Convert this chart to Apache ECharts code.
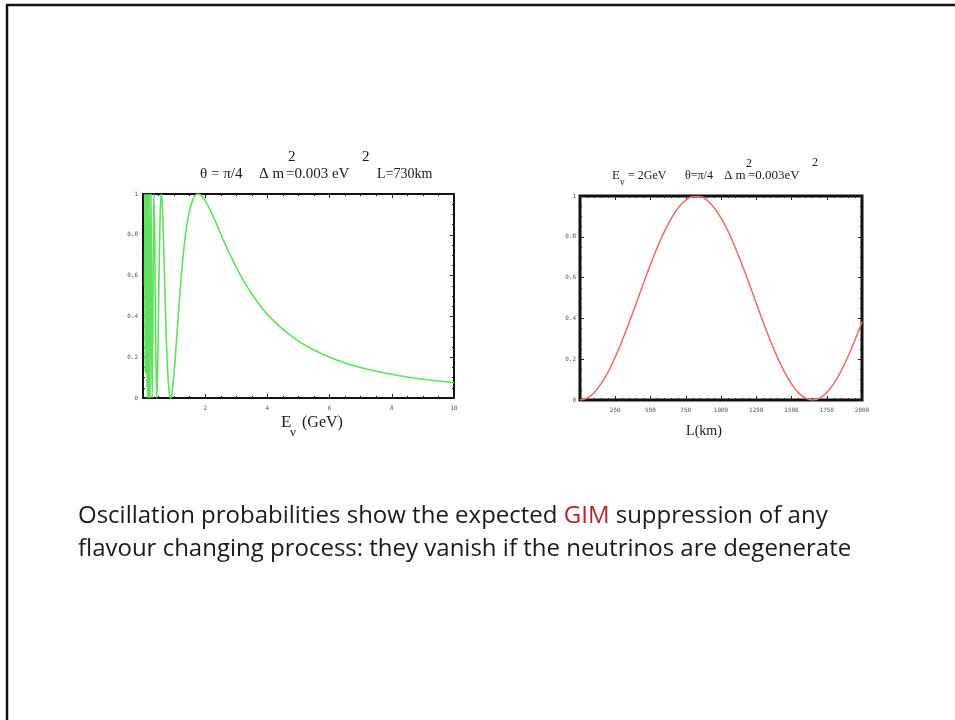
<!DOCTYPE html>
<html>
<head>
<meta charset="utf-8">
<script src="https://cdn.jsdelivr.net/npm/echarts/dist/echarts.min.js"></script>
</head>
<body style="margin:0">
<div id="container" style="width:955px;height:720px;"></div>
<script>
// left plot: probability vs neutrino energy (GeV)
var energy = [0.05, 0.06, 0.07, 0.08, 0.09, 0.10, 0.11, 0.12, 0.13, 0.14, 0.148, 0.161, 0.177, 0.197, 0.221, 0.237,
    0.253, 0.26, 0.27, 0.28, 0.295, 0.31, 0.32, 0.335, 0.354, 0.375, 0.39, 0.41, 0.443, 0.47, 0.50, 0.53, 0.56, 0.59,
    0.62, 0.65, 0.70, 0.75, 0.80, 0.85, 0.885, 0.92, 1.0, 1.1, 1.2, 1.3, 1.4, 1.5, 1.6, 1.65, 1.7, 1.77, 1.85, 1.9, 2.0, 2.2, 2.4,
    2.6, 2.8, 3.0, 3.25, 3.5, 3.75, 4.0, 4.5, 5.0, 5.5, 6.0, 6.5, 7.0, 7.5, 8.0, 8.5, 9.0, 9.5, 10];
var probE = [0.55, 1.0, 0.13, 1.0, 0.12, 0.98, 0.2, 1.0, 0.05, 1.0, 0.0, 1.0, 0.0, 1.0, 0.0, 0.55,
    1.0, 0.91, 0.59, 0.24, 0.0, 0.19, 0.45, 0.81, 1.0, 0.82, 0.56, 0.23, 0.0, 0.13, 0.44, 0.74, 0.94, 1.0,
    0.95, 0.82, 0.55, 0.29, 0.11, 0.02, 0.0, 0.014, 0.125, 0.33, 0.54, 0.71, 0.84, 0.92, 0.97, 0.987, 0.996, 1.0, 0.996, 0.988, 0.968, 0.909, 0.84,
    0.769, 0.703, 0.64, 0.57, 0.51, 0.457, 0.41, 0.336, 0.279, 0.235, 0.2, 0.172, 0.15, 0.131, 0.116, 0.103, 0.092, 0.083, 0.075];

// right plot: probability vs baseline (km)
var baseline = [0, 50, 100, 150, 200, 250, 300, 350, 400, 450, 500, 550, 600, 650, 700, 750, 800, 850, 900, 950, 1000,
    1050, 1100, 1150, 1200, 1250, 1300, 1350, 1400, 1450, 1500, 1550, 1600, 1650, 1700, 1750, 1800, 1850, 1900, 1950, 2000];
var probL = [0, 0.009, 0.036, 0.08, 0.138, 0.21, 0.293, 0.383, 0.476, 0.572, 0.664, 0.751, 0.828, 0.893, 0.945, 0.98, 0.998, 0.998, 0.98, 0.944, 0.893,
    0.827, 0.749, 0.662, 0.57, 0.474, 0.38, 0.291, 0.209, 0.138, 0.079, 0.035, 0.009, 0.0, 0.009, 0.037, 0.08, 0.14, 0.212, 0.294, 0.384];

var energyTicks = ['2', '4', '6', '8', '10'];
var baselineTicks = ['250', '500', '750', '1000', '1250', '1500', '1750', '2000'];
var probTicks = ['0', '0.2', '0.4', '0.6', '0.8', '1'];

function pickLabel(list) {
    return function (v) {
        var s = String(+(+v).toFixed(3));
        return list.indexOf(s) >= 0 ? s : '';
    };
}

var tickColor = '#222';
var labelStyle = {fontSize: 6, fontFamily: 'DejaVu Sans Mono', color: '#555'};

function frameAxis(grid, pos, min, max, interval, minor, ticks, margin) {
    return {
        gridIndex: grid, type: 'value', position: pos, min: min, max: max, interval: interval,
        axisLine: {show: false, onZero: false},
        splitLine: {show: false},
        axisTick: {show: true, inside: true, length: 4, lineStyle: {color: tickColor}},
        minorTick: {show: true, splitNumber: minor, length: 2, lineStyle: {color: tickColor}},
        axisLabel: ticks ? Object.assign({show: true, margin: margin, formatter: pickLabel(ticks)}, labelStyle) : {show: false}
    };
}

var serif = '"Liberation Serif", "DejaVu Serif", serif';
function txt(x, y, s, size, extra) {
    return {
        type: 'text', x: x, y: y,
        style: Object.assign({text: s, font: size + 'px ' + serif, fill: '#1a1a1a', align: 'left', verticalAlign: 'middle'}, extra || {})
    };
}

var dom = document.getElementById('container');
var myChart = echarts.init(dom);

var option = {
    animation: false,
    backgroundColor: '#fff',
    grid: [
        {left: 143, top: 194, width: 311, height: 204, show: true, borderColor: '#111', borderWidth: 2, backgroundColor: 'transparent'},
        {left: 580, top: 196, width: 282, height: 204, show: true, borderColor: '#111', borderWidth: 3, backgroundColor: 'transparent'}
    ],
    xAxis: [
        frameAxis(0, 'bottom', 0, 10, 2, 4, energyTicks, 7),
        frameAxis(0, 'top', 0, 10, 2, 4, null),
        frameAxis(1, 'bottom', 0, 2000, 250, 5, baselineTicks, 7),
        frameAxis(1, 'top', 0, 2000, 250, 5, null)
    ],
    yAxis: [
        frameAxis(0, 'left', 0, 1, 0.2, 4, probTicks, 5),
        frameAxis(0, 'right', 0, 1, 0.2, 4, null),
        frameAxis(1, 'left', 0, 1, 0.2, 4, probTicks, 4),
        frameAxis(1, 'right', 0, 1, 0.2, 4, null)
    ],
    series: [
        {
            type: 'line', xAxisIndex: 0, yAxisIndex: 0,
            data: energy.map(function (e, i) { return [e, probE[i]]; }),
            showSymbol: false, smooth: 0.3,
            lineStyle: {color: '#5fe05f', width: 1.6}
        },
        {
            type: 'line', xAxisIndex: 2, yAxisIndex: 2,
            data: baseline.map(function (l, i) { return [l, probL[i]]; }),
            showSymbol: false, smooth: 0.4,
            lineStyle: {color: '#f06a6a', width: 1.5}
        }
    ],
    graphic: [
        {type: 'line', shape: {x1: 6, y1: 5, x2: 955, y2: 5}, style: {stroke: '#111', lineWidth: 2.5}},
        {type: 'line', shape: {x1: 7, y1: 5, x2: 7, y2: 720}, style: {stroke: '#111', lineWidth: 2.5}},

        // left title
        txt(200, 174, 'θ = π/4', 15),
        txt(259, 174, 'Δ m', 15),
        txt(286, 174, '=0.003 eV', 15),
        txt(288, 157, '2', 15),
        txt(362, 157, '2', 15),
        txt(377, 174, 'L=730km', 14),

        // left axis name
        txt(281, 423, 'E', 17),
        txt(290, 433, 'ν', 13),
        txt(302, 423, '(GeV)', 16),

        // right title
        txt(612, 176, 'E', 13),
        txt(620, 182, 'ν', 10),
        txt(628, 176, '= 2GeV', 12),
        txt(685, 176, 'θ=π/4', 12),
        txt(724, 176, 'Δ m', 13),
        txt(746, 164, '2', 12),
        txt(748, 176, '=0.003eV', 13),
        txt(812, 163, '2', 12),

        // right axis name
        txt(704, 431, 'L(km)', 14, {align: 'center'}),

        // caption
        {
            type: 'text', x: 78, y: 500,
            style: {
                text: '{n|Oscillation probabilities show the expected }{r|GIM}{n| suppression of any}\n{n|flavour changing process: they vanish if the neutrinos are degenerate}',
                verticalAlign: 'top', align: 'left',
                rich: {
                    n: {fontSize: 24, fontFamily: '"Open Sans"', fill: '#1a1a1a', lineHeight: 33},
                    r: {fontSize: 24, fontFamily: '"Open Sans"', fill: '#b5242a', lineHeight: 33}
                }
            }
        }
    ]
};

myChart.setOption(option);
</script>
</body>
</html>
